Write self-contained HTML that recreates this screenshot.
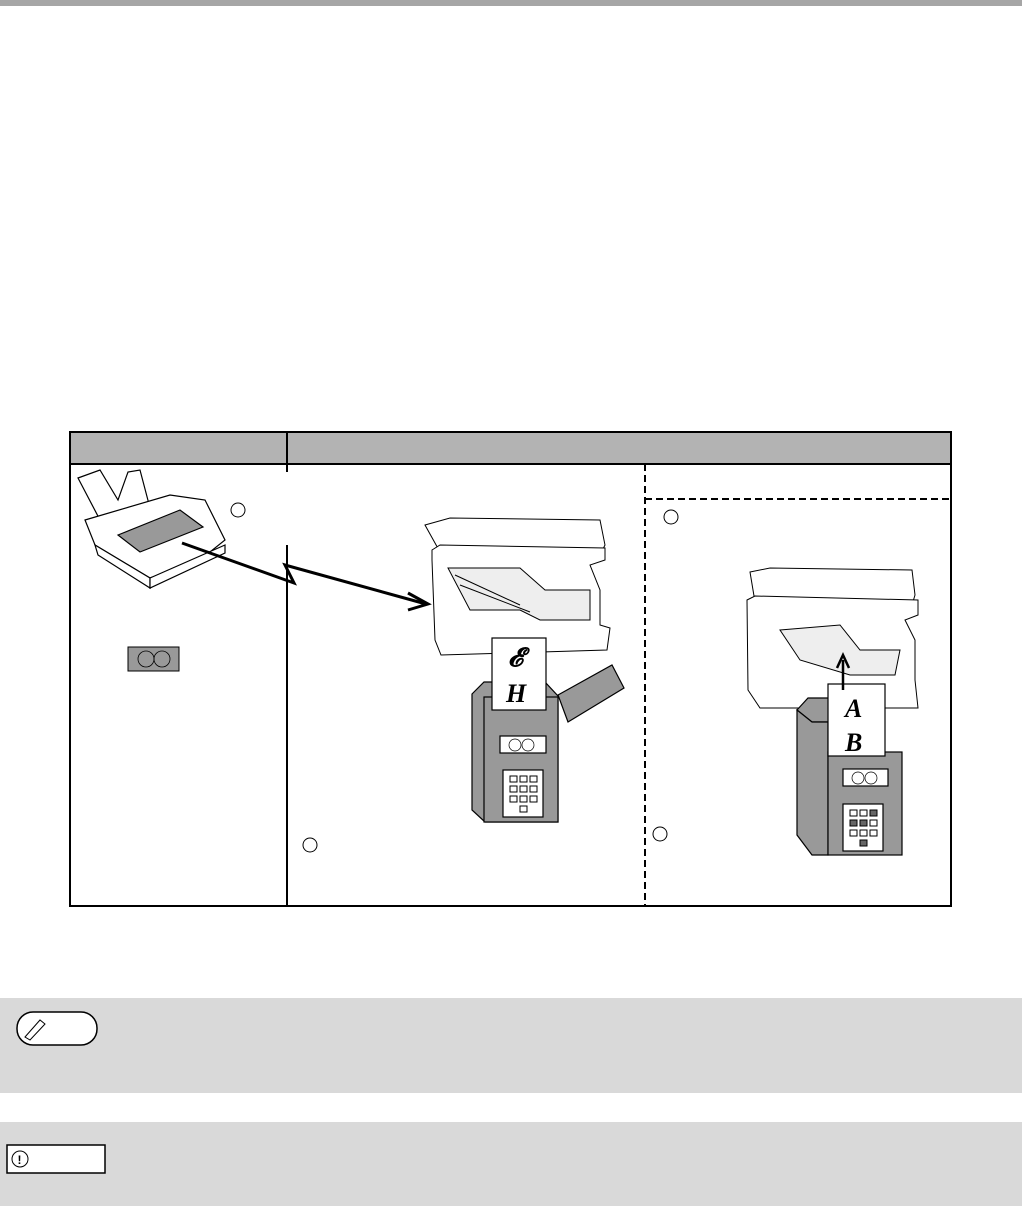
<!DOCTYPE html>
<html><head><meta charset="utf-8"><style>
html,body{margin:0;padding:0;background:#fff;width:1022px;height:1206px;overflow:hidden;font-family:"Liberation Sans",sans-serif}
</style></head><body>
<svg width="1022" height="1206" viewBox="0 0 1022 1206" xmlns="http://www.w3.org/2000/svg">
<rect x="0" y="0" width="1022" height="6" fill="#a6a6a6"/>
<rect x="70" y="432" width="881" height="32" fill="#b3b3b3"/>
<rect x="70" y="432" width="881" height="474" fill="none" stroke="#000" stroke-width="2"/>
<line x1="70" y1="464" x2="951" y2="464" stroke="#000" stroke-width="2"/>
<line x1="287" y1="432" x2="287" y2="472" stroke="#000" stroke-width="2"/>
<line x1="287" y1="545" x2="287" y2="906" stroke="#000" stroke-width="2"/>
<line x1="645" y1="464" x2="645" y2="906" stroke="#000" stroke-width="2" stroke-dasharray="7,4"/>
<line x1="645" y1="499" x2="951" y2="499" stroke="#000" stroke-width="2" stroke-dasharray="7,4"/>
<g fill="none" stroke="#000" stroke-width="1">
<circle cx="238" cy="510" r="7"/><circle cx="671" cy="517" r="7"/>
<circle cx="310" cy="845" r="7"/><circle cx="660" cy="834" r="7"/>
</g>
<g stroke="#000" stroke-width="1.2" fill="#fff">
<path d="M78,478 L100,470 L118,500 L128,472 L140,470 L150,508 L100,520 Z"/>
<path d="M85,520 L170,495 L205,500 L225,540 L200,560 L150,578 L95,545 Z"/>
<path d="M95,545 L150,578 L150,588 L98,555 Z"/>
<path d="M150,578 L225,545 L225,553 L150,588 Z"/>
<path d="M118,535 L180,510 L203,527 L140,552 Z" fill="#999"/>
</g>
<path d="M182,543 L294,583 L285,565 L426,604" fill="none" stroke="#000" stroke-width="3" stroke-linejoin="miter"/>
<path d="M408,593 L428,604 L408,610" fill="none" stroke="#000" stroke-width="3"/>
<rect x="128" y="647" width="51" height="24" fill="#999" stroke="#000"/>
<circle cx="146" cy="659" r="8" fill="none" stroke="#000" stroke-width=".8"/>
<circle cx="162" cy="659" r="8" fill="none" stroke="#000" stroke-width=".8"/>
<g stroke="#000" stroke-width="1" fill="#fff">
<path d="M425,525 L450,518 L600,520 L605,545 L600,555 L440,552 Z"/>
<path d="M432,550 L440,545 L605,548 L605,560 L590,565 L600,590 L600,625 L610,628 L607,650 L441,655 L435,640 L432,560 Z"/>
<path d="M448,568 L520,568 L545,590 L590,590 L590,620 L540,620 L520,610 L470,610 Z" fill="#eee"/>
<line x1="455" y1="575" x2="520" y2="605"/><line x1="460" y1="585" x2="530" y2="612"/>
</g>
<g stroke="#000" stroke-width="1.2">
<path d="M558,695 L612,665 L624,688 L568,722 Z" fill="#999"/>
<path d="M472,694 L484,682 L545,682 L558,696 L558,822 L485,822 L472,810 Z" fill="#999"/>
<rect x="484" y="697" width="74" height="125" fill="#999"/>
<rect x="492" y="638" width="54" height="72" fill="#fff"/>
<rect x="500" y="736" width="46" height="17" fill="#fff"/>
<circle cx="515" cy="745" r="6" fill="none" stroke-width=".7"/><circle cx="528" cy="745" r="6" fill="none" stroke-width=".7"/>
<rect x="503" y="770" width="40" height="47" fill="#fff"/>
</g>
<g fill="#fff" stroke="#000"><rect x="510" y="776" width="7" height="6"/><rect x="520" y="776" width="7" height="6"/><rect x="530" y="776" width="7" height="6"/>
<rect x="510" y="786" width="7" height="6"/><rect x="520" y="786" width="7" height="6"/><rect x="530" y="786" width="7" height="6"/>
<rect x="510" y="796" width="7" height="6"/><rect x="520" y="796" width="7" height="6"/><rect x="530" y="796" width="7" height="6"/>
<rect x="520" y="806" width="7" height="6"/></g>
<text x="508" y="666" font-family="Liberation Serif" font-style="italic" font-weight="bold" font-size="26">&#x1D4D4;</text>
<text x="506" y="702" font-family="Liberation Serif" font-style="italic" font-weight="bold" font-size="26">H</text>
<g stroke="#000" stroke-width="1" fill="#fff">
<path d="M750,572 L770,568 L912,570 L915,595 L912,605 L755,602 Z"/>
<path d="M747,600 L755,596 L918,600 L918,615 L905,620 L915,640 L915,680 L918,708 L760,708 L748,690 Z"/>
<path d="M780,630 L840,625 L860,650 L900,650 L895,675 L850,675 L800,660 Z" fill="#eee"/>
</g>
<g stroke="#000" stroke-width="1.2">
<path d="M797,710 L808,698 L830,698 L830,722 L812,722 Z" fill="#999"/>
<path d="M797,710 L812,722 L828,722 L828,855 L812,855 L797,835 Z" fill="#999"/>
<rect x="828" y="752" width="74" height="103" fill="#999"/>
<rect x="828" y="684" width="57" height="72" fill="#fff"/>
<rect x="843" y="769" width="45" height="17" fill="#fff"/>
<circle cx="858" cy="778" r="6" fill="none" stroke-width=".7"/><circle cx="871" cy="778" r="6" fill="none" stroke-width=".7"/>
<rect x="843" y="804" width="40" height="47" fill="#fff"/>
</g>
<g fill="#fff" stroke="#000"><rect x="850" y="810" width="7" height="6"/><rect x="860" y="810" width="7" height="6"/><rect x="870" y="810" width="7" height="6" fill="#666"/>
<rect x="850" y="820" width="7" height="6" fill="#666"/><rect x="860" y="820" width="7" height="6" fill="#666"/><rect x="870" y="820" width="7" height="6"/>
<rect x="850" y="830" width="7" height="6"/><rect x="860" y="830" width="7" height="6"/><rect x="870" y="830" width="7" height="6"/>
<rect x="860" y="840" width="7" height="6" fill="#666"/></g>
<text x="845" y="717" font-family="Liberation Serif" font-style="italic" font-weight="bold" font-size="26">A</text>
<text x="845" y="751" font-family="Liberation Serif" font-style="italic" font-weight="bold" font-size="26">B</text>
<line x1="843" y1="690" x2="843" y2="660" stroke="#000" stroke-width="2.5"/>
<path d="M837,668 L843,655 L849,668" fill="none" stroke="#000" stroke-width="2.5"/>
<rect x="0" y="998" width="1022" height="95" fill="#d9d9d9"/>
<rect x="17" y="1012" width="80" height="33" rx="16" fill="#fff" stroke="#000" stroke-width="1.5"/>
<path d="M25,1037 L40,1020 L45,1024 L30,1040 Z" fill="#fff" stroke="#000"/>
<rect x="0" y="1122" width="1022" height="84" fill="#d9d9d9"/>
<rect x="7" y="1145" width="98" height="28" fill="#fff" stroke="#000" stroke-width="1.5"/>
<circle cx="20" cy="1159" r="8" fill="none" stroke="#000"/>
<text x="17.5" y="1164" font-size="12" font-weight="bold">!</text>
</svg>
</body></html>
